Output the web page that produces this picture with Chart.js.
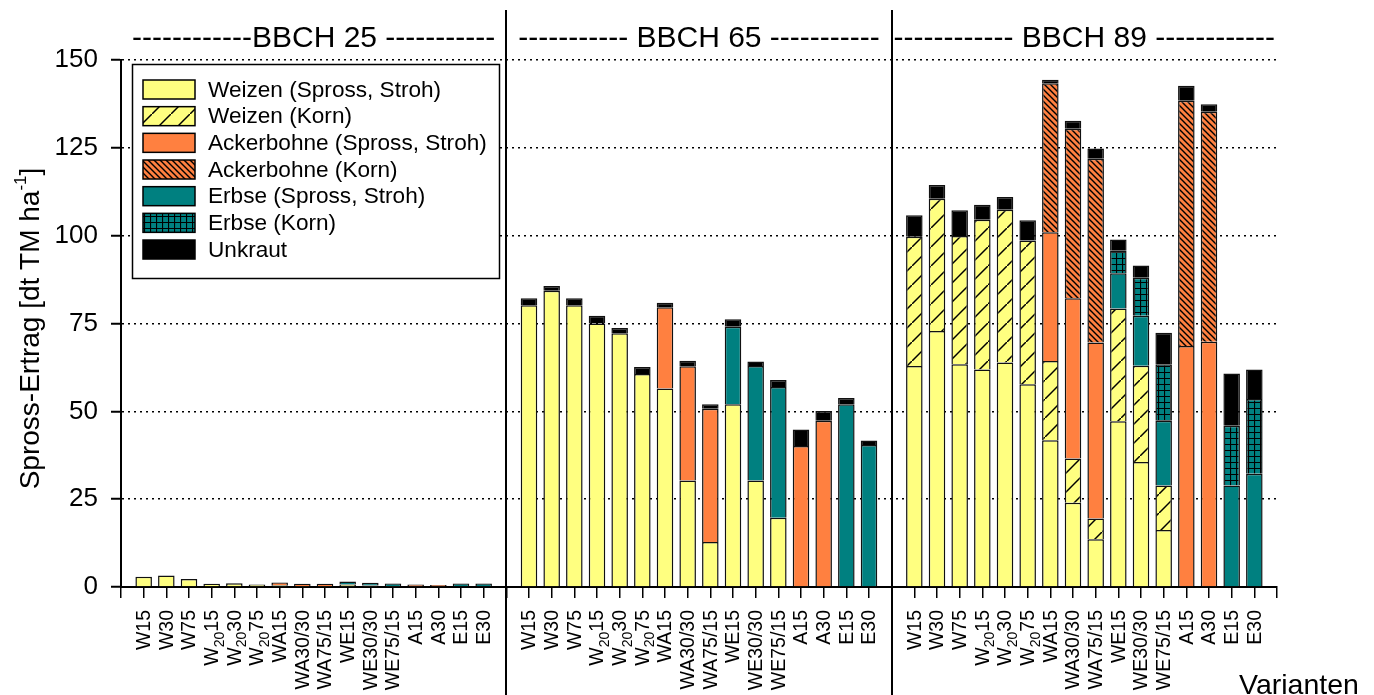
<!DOCTYPE html>
<html>
<head>
<meta charset="utf-8">
<script src="https://cdn.jsdelivr.net/npm/chart.js@4"></script>
<style>
  body { margin: 0; background: #fff; }
  canvas { display: block; }
</style>
</head>
<body>
<canvas id="ertragChart" width="1374" height="695"></canvas>
<script>
// Varianten per stage (same 16 for each BBCH stage); "_{..}" marks a subscript
const variants = ['W15', 'W30', 'W75', 'W_{20}15', 'W_{20}30', 'W_{20}75', 'WA15', 'WA30/30',
    'WA75/15', 'WE15', 'WE30/30', 'WE75/15', 'A15', 'A30', 'E15', 'E30'];
const stageTitles = ['------------BBCH 25 -----------', '----------- BBCH 65 -----------', '------------ BBCH 89 ------------'];

const yTicks = [0, 25, 50, 75, 100, 125, 150];

// values in dt TM/ha, 16 per stage: BBCH 25 | BBCH 65 | BBCH 89
const weizenSpross = [
    2.9, 3.3, 2.3, 0.9, 1.1, 0.7, 0.5, 0.3, 0.3, 0.7, 0.4, 0.3, 0, 0, 0, 0,
    80.2, 84.3, 80.2, 75.0, 72.2, 60.6, 56.5, 30.3, 12.8, 52.0, 30.3, 19.7, 0, 0, 0, 0,
    62.9, 72.9, 63.4, 61.9, 63.9, 57.7, 41.8, 24.0, 13.6, 47.2, 35.6, 16.2, 0, 0, 0, 0];
const weizenKorn = [
    0, 0, 0, 0, 0, 0, 0, 0, 0, 0, 0, 0, 0, 0, 0, 0,
    0, 0, 0, 0, 0, 0, 0, 0, 0, 0, 0, 0, 0, 0, 0, 0,
    36.8, 37.6, 36.5, 42.6, 43.5, 40.9, 22.5, 12.6, 5.9, 32.1, 27.4, 12.7, 0, 0, 0, 0];
const ackerSpross = [
    0, 0, 0, 0, 0, 0, 0.8, 0.6, 0.6, 0, 0, 0, 0.7, 0.6, 0, 0,
    0, 0, 0, 0, 0, 0, 23.1, 32.5, 37.9, 0, 0, 0, 40.1, 47.3, 0, 0,
    0, 0, 0, 0, 0, 0, 36.7, 45.6, 50.1, 0, 0, 0, 68.6, 69.8, 0, 0];
const ackerKorn = [
    0, 0, 0, 0, 0, 0, 0, 0, 0, 0, 0, 0, 0, 0, 0, 0,
    0, 0, 0, 0, 0, 0, 0, 0, 0, 0, 0, 0, 0, 0, 0, 0,
    0, 0, 0, 0, 0, 0, 42.4, 48.2, 52.3, 0, 0, 0, 69.8, 65.5, 0, 0];
const erbseSpross = [
    0, 0, 0, 0, 0, 0, 0, 0, 0, 0.9, 0.8, 0.7, 0, 0, 1.0, 1.0,
    0, 0, 0, 0, 0, 0, 0, 0, 0, 22.1, 32.6, 37.2, 0, 0, 52.0, 40.4,
    0, 0, 0, 0, 0, 0, 0, 0, 0, 10.0, 14.2, 18.4, 0, 0, 28.9, 32.2];
const erbseKorn = [
    0, 0, 0, 0, 0, 0, 0, 0, 0, 0, 0, 0, 0, 0, 0, 0,
    0, 0, 0, 0, 0, 0, 0, 0, 0, 0, 0, 0, 0, 0, 0, 0,
    0, 0, 0, 0, 0, 0, 0, 0, 0, 6.4, 10.8, 16.1, 0, 0, 17.0, 21.3];
const unkraut = [
    0, 0, 0, 0, 0, 0, 0, 0, 0, 0, 0, 0, 0, 0, 0, 0,
    2.0, 1.4, 2.0, 2.2, 1.5, 2.0, 1.3, 1.6, 1.3, 2.1, 1.3, 2.0, 4.7, 2.8, 1.8, 1.3,
    6.1, 3.9, 7.3, 4.3, 3.6, 5.8, 1.0, 2.3, 2.9, 3.2, 3.5, 9.0, 4.3, 2.1, 14.9, 8.4];

const YELLOW = '#FFFF80';
const ORANGE = '#FF8040';
const TEAL = '#008080';
const FONT = '"Liberation Sans", Arial, Helvetica, sans-serif';

// Hatch patterns for the grain (Korn) parts
function makePattern(size, bg, drawFn) {
    const c = document.createElement('canvas');
    c.width = size;
    c.height = size;
    const g = c.getContext('2d');
    g.fillStyle = bg;
    g.fillRect(0, 0, size, size);
    g.strokeStyle = '#000';
    drawFn(g, size);
    return g.createPattern(c, 'repeat');
}
const weizenKornFill = makePattern(19, YELLOW, (g, s) => {
    g.lineWidth = 1.5;
    g.beginPath();
    g.moveTo(-2, s + 2); g.lineTo(s + 2, -2);
    g.stroke();
});
const ackerKornFill = makePattern(6, ORANGE, (g, s) => {
    g.lineWidth = 1.4;
    g.beginPath();
    g.moveTo(-1, -1); g.lineTo(s + 1, s + 1);
    g.moveTo(-1, s - 1); g.lineTo(1, s + 1);
    g.moveTo(s - 1, -1); g.lineTo(s + 1, 1);
    g.stroke();
});
const erbseKornFill = makePattern(6, TEAL, (g, s) => {
    g.lineWidth = 1.2;
    g.beginPath();
    g.moveTo(0, 0.5); g.lineTo(s, 0.5);
    g.moveTo(0.5, 0); g.lineTo(0.5, s);
    g.stroke();
});

// 52 category slots: empty slot before each stage and at the end (divider positions)
const labels = [''].concat(variants, [''], variants, [''], variants, ['']);
function toSlots(values) {
    const v = values.map(n => (n === 0 ? null : n));
    return [null].concat(v.slice(0, 16), [null], v.slice(16, 32), [null], v.slice(32, 48), [null]);
}

const series = [
    { label: 'Weizen (Spross, Stroh)', data: weizenSpross, fill: YELLOW },
    { label: 'Weizen (Korn)', data: weizenKorn, fill: weizenKornFill },
    { label: 'Ackerbohne (Spross, Stroh)', data: ackerSpross, fill: ORANGE },
    { label: 'Ackerbohne (Korn)', data: ackerKorn, fill: ackerKornFill },
    { label: 'Erbse (Spross, Stroh)', data: erbseSpross, fill: TEAL },
    { label: 'Erbse (Korn)', data: erbseKorn, fill: erbseKornFill },
    { label: 'Unkraut', data: unkraut, fill: '#000' }
];

// legend box, group titles, dividers, rotated labels with subscripts
const overlay = {
    id: 'overlay',
    afterDatasetsDraw(chart) {
        const ctx = chart.ctx;
        ctx.save();
        ctx.fillStyle = '#fff';
        ctx.fillRect(132, 64, 368, 215);
        ctx.lineWidth = 1.5;
        ctx.strokeStyle = '#000';
        ctx.strokeRect(132.5, 64.5, 367, 214);
        ctx.font = '22.6px ' + FONT;
        ctx.textBaseline = 'middle';
        chart.data.datasets.forEach((ds, i) => {
            const cy = 89.5 + i * 26.67;
            ctx.fillStyle = ds.backgroundColor;
            ctx.fillRect(143, cy - 9.5, 52, 19);
            ctx.lineWidth = 1.5;
            ctx.strokeRect(143, cy - 9.5, 52, 19);
            ctx.fillStyle = '#000';
            ctx.fillText(ds.label, 208, cy + 1);
        });
        ctx.restore();
    },
    afterDraw(chart) {
        const ctx = chart.ctx;
        const x = chart.scales.x;
        const area = chart.chartArea;
        ctx.save();

        // stage dividers
        ctx.strokeStyle = '#000';
        ctx.lineWidth = 2;
        [17, 34].forEach(i => {
            const px = Math.round(x.getPixelForValue(i));
            ctx.beginPath();
            ctx.moveTo(px, 10);
            ctx.lineTo(px, 695);
            ctx.stroke();
        });

        // stage titles
        ctx.fillStyle = '#000';
        ctx.font = '30px ' + FONT;
        ctx.textAlign = 'center';
        ctx.textBaseline = 'alphabetic';
        stageTitles.forEach((t, k) => {
            const cx = (x.getPixelForValue(k * 17) + x.getPixelForValue(k * 17 + 17)) / 2;
            ctx.fillText(t, cx, 47);
        });

        // x labels, rotated
        labels.forEach((lab, i) => {
            if (!lab) return;
            const m = lab.match(/^(.*)_\{(.*)\}(.*)$/);
            const parts = m ? [[m[1], false], [m[2], true], [m[3], false]] : [[lab, false]];
            let total = 0;
            parts.forEach(p => {
                ctx.font = (p[1] ? '14px ' : '19.5px ') + FONT;
                p.w = ctx.measureText(p[0]).width;
                total += p.w;
            });
            ctx.save();
            ctx.translate(x.getPixelForValue(i), 610);
            ctx.rotate(-Math.PI / 2);
            ctx.textAlign = 'left';
            ctx.textBaseline = 'middle';
            let pos = -total;
            parts.forEach(p => {
                ctx.font = (p[1] ? '14px ' : '19.5px ') + FONT;
                ctx.fillText(p[0], pos, p[1] ? 8 : 1);
                pos += p.w;
            });
            ctx.restore();
        });

        // y axis title with superscript
        ctx.save();
        ctx.translate(31, (area.top + area.bottom) / 2 + 5);
        ctx.rotate(-Math.PI / 2);
        ctx.textBaseline = 'middle';
        ctx.textAlign = 'left';
        const t1 = 'Spross-Ertrag [dt TM ha', sup = '-1', t2 = ']';
        ctx.font = '28px ' + FONT;
        const w1 = ctx.measureText(t1).width, w3 = ctx.measureText(t2).width;
        ctx.font = '17px ' + FONT;
        const w2 = ctx.measureText(sup).width;
        let px = -(w1 + w2 + w3) / 2;
        ctx.font = '28px ' + FONT;
        ctx.fillText(t1, px, 0);
        ctx.font = '17px ' + FONT;
        ctx.fillText(sup, px + w1, -10);
        ctx.font = '28px ' + FONT;
        ctx.fillText(t2, px + w1 + w2, 0);
        ctx.restore();

        // axis name
        ctx.font = '28.5px ' + FONT;
        ctx.textAlign = 'left';
        ctx.textBaseline = 'alphabetic';
        ctx.fillText('Varianten', 1239, 694);
        ctx.restore();
    }
};

const ctx = document.getElementById('ertragChart').getContext('2d');
const myChart = new Chart(ctx, {
    type: 'bar',
    data: {
        labels: labels,
        datasets: series.map(s => ({
            label: s.label,
            data: toSlots(s.data),
            backgroundColor: s.fill,
            borderColor: '#111',
            borderWidth: 1.5,
            categoryPercentage: 1,
            barPercentage: 0.73
        }))
    },
    options: {
        responsive: false,
        animation: false,
        layout: { padding: { top: 60, right: 97, left: 0, bottom: 0 } },
        plugins: {
            legend: { display: false },
            tooltip: { enabled: false }
        },
        scales: {
            x: {
                stacked: true,
                offset: false,
                afterFit: scale => { scale.height = 108; },
                grid: {
                    offset: false,
                    drawOnChartArea: false,
                    drawTicks: true,
                    tickLength: 11,
                    color: '#000',
                    lineWidth: 1.5
                },
                border: { display: true, color: '#000', width: 2 },
                ticks: { display: false, autoSkip: false }
            },
            y: {
                stacked: true,
                min: 0,
                max: 150,
                afterFit: scale => { scale.width = 121; },
                afterBuildTicks: scale => { scale.ticks = yTicks.map(v => ({ value: v })); },
                grid: {
                    color: '#000',
                    lineWidth: 1.5,
                    tickLength: 10,
                    tickColor: '#000',
                    tickWidth: 2
                },
                border: { display: true, color: '#000', width: 2, dash: [2, 4] },
                ticks: {
                    color: '#000',
                    padding: 13,
                    font: { family: FONT, size: 26 }
                }
            }
        }
    },
    plugins: [overlay]
});
</script>
</body>
</html>
